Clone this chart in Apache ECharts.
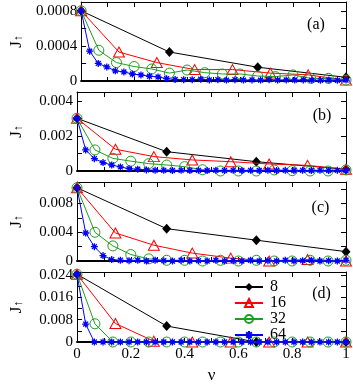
<!DOCTYPE html>
<html>
<head>
<meta charset="utf-8">
<script src="https://cdn.jsdelivr.net/npm/echarts@6/dist/echarts.min.js"></script>
<style>
  html, body { margin: 0; padding: 0; background: #fff; }
  #chart { width: 353px; height: 385px; }
</style>
</head>
<body>
<div id="chart"></div>
<script>
// nu positions for each system size (k / (L/2 - 1))
const nu8 = [0, 1/3, 2/3, 1];
const nu16 = [0, 1/7, 2/7, 3/7, 4/7, 5/7, 6/7, 1];
const nu32 = [0, 1/15, 2/15, 3/15, 4/15, 5/15, 6/15, 7/15, 8/15, 9/15, 10/15, 11/15, 12/15, 13/15, 14/15, 1];
const nu64 = [0, 1/31, 2/31, 3/31, 4/31, 5/31, 6/31, 7/31, 8/31, 9/31, 10/31, 11/31, 12/31, 13/31, 14/31, 15/31,
  16/31, 17/31, 18/31, 19/31, 20/31, 21/31, 22/31, 23/31, 24/31, 25/31, 26/31, 27/31, 28/31, 29/31, 30/31, 1];

const sizes = ['8', '16', '32', '64'];

// panel (a)
const jA8 = [0.0008, 0.00033, 0.000157, 0.000042];
const jA16 = [0.0008, 0.00033, 0.00021, 0.00013, 0.00013, 0.00009, 0.00007, 0.00001];
const jA32 = [0.0008, 0.00035, 0.00021, 0.000165, 0.000137, 0.00009, 0.000125, 0.000095,
  0.00008, 0.00008, 0.000057, 0.00005, 0.000069, 0.00003, 0.00003, 0.00001];
const jA64 = [0.0008, 0.00034, 0.0002, 0.00016, 0.000116, 0.000103, 0.00008, 0.000069,
  0.000054, 0.000046, 0.000027, 0.000017, 0.000015, 0.000015, 0.00002, 0.000012,
  0.000015, 0.00001, 0.000015, 0.00001, 0.000012, 0.00001, 0.000015, 0.00001,
  0.000012, 0.00001, 0.000012, 0.00001, 0.000008, 0.00001, 0.000008, 0.00001];

// panel (b)
const jB8 = [0.003, 0.0011, 0.00053, 0.0001];
const jB16 = [0.003, 0.00124, 0.00082, 0.00063, 0.00053, 0.0004, 0.00032, 0.0001];
const jB32 = [0.003, 0.0012, 0.00072, 0.00056, 0.00042, 0.00034, 0.00025, 0.00007,
  0, 0, 0, 0.00006, 0.00002, 0, 0, 0.00006];
const jB64 = [0.003, 0.0012, 0.0007, 0.00048, 0.00034, 0.00023, 0.00013, 0.0001,
  0.00006, 0.00004, 0.00004, 0.00003, 0.00004, 0.00003, 0.00004, 0.00003,
  0.00004, 0.00003, 0.00004, 0.00003, 0.00004, 0.00003, 0.00004, 0.00003,
  0.00004, 0.00003, 0.00004, 0.00003, 0.00004, 0.00003, 0.00004, 0.00003];

// panel (c)
const jC8 = [0.0102, 0.0045, 0.0029, 0.0013];
const jC16 = [0.0102, 0.0039, 0.0022, 0.0011, 0.0004, 0, 0.0002, 0];
const jC32 = [0.0102, 0.004, 0.0021, 0.0009, 0.0003, 0.0001, 0.0001, 0,
  0.0001, 0, 0.0001, 0, 0, 0.0001, 0, 0.0001];
const jC64 = [0.0102, 0.0039, 0.002, 0.00075, 0.0002, 0.0001, 0.00005, 0.0001,
  0, 0.0001, 0.00005, 0, 0.0001, 0, 0.00005, 0,
  0.0001, 0, 0.00005, 0, 0.0001, 0, 0.00005, 0,
  0.0001, 0, 0.00005, 0.0001, 0, 0.00005, 0, 0.0001];

// panel (d)
const jD8 = [0.0242, 0.0057, 0, 0];
const jD16 = [0.0242, 0.0066, 0.0003, 0, 0, 0, 0, 0];
const jD32 = [0.0242, 0.0065, 0, 0, 0, 0, 0, 0, 0, 0, 0, 0, 0, 0, 0, 0];
const jD64 = [0.0242, 0.0064, 0, 0, 0, 0, 0, 0, 0, 0, 0, 0, 0, 0, 0, 0,
  0, 0, 0, 0, 0, 0, 0, 0, 0, 0, 0, 0, 0, 0, 0, 0];

const panels = [
  { tag: '(a)', max: 0.0009, tick: 0.0002, label: 0.0004, digits: 4, data: [jA8, jA16, jA32, jA64] },
  { tag: '(b)', max: 0.0045, tick: 0.001, label: 0.002, digits: 3, data: [jB8, jB16, jB32, jB64] },
  { tag: '(c)', max: 0.011, tick: 0.002, label: 0.004, digits: 3, data: [jC8, jC16, jC32, jC64] },
  { tag: '(d)', max: 0.025, tick: 0.004, label: 0.008, digits: 3, data: [jD8, jD16, jD32, jD64] }
];

const nus = [nu8, nu16, nu32, nu64];
const FONT = "'Liberation Serif', 'DejaVu Serif', serif";
const tops = [2, 92, 182, 272];
const panelH = 79;
const tagPos = [[316, 25], [322, 115.5], [320.5, 207.5], [321.5, 294]];

const styles = [
  { symbol: 'diamond', size: [9, 10], color: '#000000', fill: '#000000', bw: 0 },
  { symbol: 'triangle', size: [11, 10], color: '#ff0000', fill: 'rgba(0,0,0,0)', bw: 1 },
  { symbol: 'circle', size: 10, color: '#1e9e1e', fill: 'rgba(0,0,0,0)', bw: 1 },
  { symbol: 'path://M0,5L10,5M5,0L5,10M1.5,1.5L8.5,8.5M8.5,1.5L1.5,8.5', size: 7, color: '#0000ff', fill: '#0000ff', bw: 1.3 }
];

const grid = [];
const xAxis = [];
const yAxis = [];
const series = [];
const graphic = [];

panels.forEach((p, i) => {
  const last = i === panels.length - 1;
  grid.push({ left: 70, right: 7, top: tops[i], height: panelH });

  xAxis.push({
    gridIndex: i, type: 'value', min: 0, max: 1, interval: 0.1, position: 'bottom',
    axisLine: { onZero: false, lineStyle: { color: '#000', width: 2 } },
    axisTick: { inside: true, length: 4, lineStyle: { color: '#000' } },
    axisLabel: {
      show: last, margin: 5, color: '#000', fontFamily: FONT, fontSize: 15,
      formatter: v => {
        const k = Math.round(v * 10);
        return k % 2 === 0 ? String(k / 10) : '';
      }
    },
    splitLine: { show: false },
    name: last ? 'ν' : '', nameLocation: 'middle', nameGap: 25,
    nameTextStyle: { color: '#000', fontFamily: FONT, fontSize: 17 }
  });
  xAxis.push({
    gridIndex: i, type: 'value', min: 0, max: 1, interval: 0.1, position: 'top',
    axisLine: { onZero: false, lineStyle: { color: '#000', width: 1 } },
    axisTick: { inside: true, length: 5, lineStyle: { color: '#000' } },
    axisLabel: { show: false },
    splitLine: { show: false }
  });

  const ratio = Math.round(p.label / p.tick);
  yAxis.push({
    gridIndex: i, type: 'value', min: 0, max: p.max, interval: p.tick, position: 'left',
    axisLine: { onZero: false, lineStyle: { color: '#000', width: 1 } },
    axisTick: { inside: true, length: 5, lineStyle: { color: '#000' } },
    axisLabel: {
      margin: 4, color: '#000', fontFamily: FONT, fontSize: 15,
      formatter: v => {
        const k = v / p.tick;
        if (Math.abs(k - Math.round(k)) > 1e-6) return '';
        const n = Math.round(k);
        if (n % ratio !== 0) return '';
        return n === 0 ? '0' : (n * p.tick).toFixed(p.digits);
      }
    },
    splitLine: { show: false },
    name: '{j|J}{s|↑}', nameLocation: 'middle', nameGap: 52, nameRotate: 90,
    nameTextStyle: {
      color: '#000',
      rich: {
        j: { fontFamily: FONT, fontSize: 17, color: '#000', lineHeight: 18, verticalAlign: 'bottom' },
        s: { fontFamily: FONT, fontSize: 12, color: '#000', lineHeight: 12, verticalAlign: 'bottom' }
      }
    }
  });
  yAxis.push({
    gridIndex: i, type: 'value', min: 0, max: p.max, interval: p.tick, position: 'right',
    axisLine: { onZero: false, lineStyle: { color: '#000', width: 1 } },
    axisTick: { inside: true, length: 5, lineStyle: { color: '#000' } },
    axisLabel: { show: false },
    splitLine: { show: false }
  });

  p.data.forEach((vals, s) => {
    const st = styles[s];
    series.push({
      name: sizes[s],
      type: 'line',
      xAxisIndex: 2 * i,
      yAxisIndex: 2 * i,
      data: nus[s].map((x, k) => [x, vals[k]]),
      symbol: st.symbol,
      symbolSize: st.size,
      showAllSymbol: true,
      clip: false,
      animation: false,
      lineStyle: { color: st.color, width: 1 },
      itemStyle: { color: st.fill, borderColor: st.color, borderWidth: st.bw },
      emphasis: { disabled: true },
      z: 2 + s
    });
  });

  graphic.push({
    type: 'text', x: tagPos[i][0], y: tagPos[i][1], z: 10,
    style: { text: p.tag, fill: '#000', font: '16px ' + FONT, align: 'center', verticalAlign: 'middle' }
  });
});

const chart = echarts.init(document.getElementById('chart'));
chart.setOption({
  animation: false,
  backgroundColor: '#fff',
  grid,
  xAxis,
  yAxis,
  series,
  graphic,
  legend: {
    data: sizes,
    orient: 'vertical',
    left: 234,
    top: 279,
    padding: 0,
    itemWidth: 28,
    itemHeight: 10,
    itemGap: 0,
    selectedMode: false,
    textStyle: { color: '#000', fontFamily: FONT, fontSize: 16, lineHeight: 13, padding: [0, 0, 0, 2] }
  }
});
</script>
</body>
</html>
